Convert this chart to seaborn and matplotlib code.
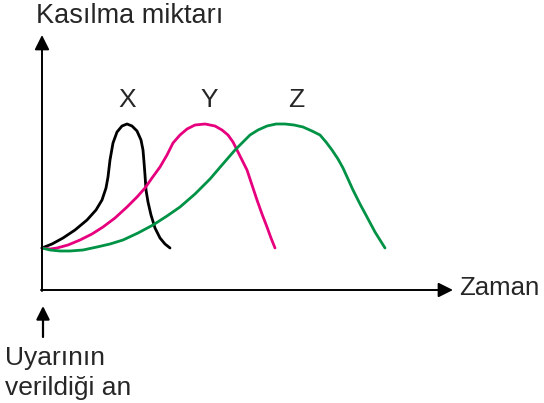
import matplotlib
matplotlib.use("Agg")
import matplotlib.pyplot as plt
import pandas as pd
import seaborn as sns

# values (pixel-like units, y grows downward)
x_curve_t = [42, 52, 63, 75, 87, 96, 102, 106, 108, 110, 113, 117, 122, 127, 132, 137,
             141, 143, 144, 145, 146, 148, 151, 155, 160, 165, 170]
x_curve_v = [248, 244, 238, 230, 220, 210, 200, 188, 177, 160, 143, 132, 126, 124, 126, 131,
             140, 150, 162, 175, 190, 202, 215, 228, 238, 244, 248]

y_curve_t = [42, 50, 57, 68, 80, 92, 103, 115, 127, 137, 145, 152, 160, 167, 173, 180, 187,
             195, 205, 215, 222, 228, 233, 237, 242, 247, 252, 257, 262, 267, 271, 275]
y_curve_v = [248, 249, 248, 245, 240, 234, 227, 218, 207, 197, 188, 178, 167, 155, 143, 135, 129,
             125, 124, 126, 130, 135, 142, 150, 160, 170, 185, 200, 214, 227, 238, 248]

z_curve_t = [42, 50, 60, 70, 83, 97, 110, 123, 138, 153, 167, 180, 195, 210, 222, 235, 243,
             250, 258, 267, 276, 285, 294, 303, 312, 320, 326, 332, 338, 343, 348, 353,
             360, 367, 375, 385]
z_curve_v = [248, 250, 251, 251, 250, 247, 244, 240, 233, 225, 216, 207, 194, 179, 165, 150, 142,
             135, 130, 126, 124, 124, 125, 127, 131, 135, 142, 150, 159, 168, 179, 190,
             204, 217, 232, 248]

curve_names = ["X", "Y", "Z"]
curve_colors = ["black", "#E6007E", "#009245"]
label_pos_t = [127, 209, 296]

df = pd.concat([
    pd.DataFrame({"t": x_curve_t, "v": x_curve_v, "egri": "X"}),
    pd.DataFrame({"t": y_curve_t, "v": y_curve_v, "egri": "Y"}),
    pd.DataFrame({"t": z_curve_t, "v": z_curve_v, "egri": "Z"}),
], ignore_index=True)

sns.set_style("white")
plt.rcParams["font.family"] = ["Liberation Sans", "DejaVu Sans"]

fig = plt.figure(figsize=(5.44, 4.03), dpi=100)
ax = fig.add_axes([0, 0, 1, 1])

sns.lineplot(data=df, x="t", y="v", hue="egri", palette=dict(zip(curve_names, curve_colors)),
             sort=False, estimator=None, linewidth=2.0, legend=False, ax=ax)

# axes with arrows
ax.annotate("", xy=(42, 35), xytext=(42, 291),
            arrowprops=dict(arrowstyle="-|>", color="black", lw=1.4, mutation_scale=22,
                            shrinkA=0, shrinkB=0))
ax.annotate("", xy=(453, 290), xytext=(41, 290),
            arrowprops=dict(arrowstyle="-|>", color="black", lw=1.4, mutation_scale=22,
                            shrinkA=0, shrinkB=0))
ax.annotate("", xy=(43, 306), xytext=(43, 337),
            arrowprops=dict(arrowstyle="-|>", color="black", lw=1.6, mutation_scale=20,
                            shrinkA=0, shrinkB=0))

for name, tx in zip(curve_names, label_pos_t):
    ax.text(tx, 100, name, fontsize=19, ha="center", va="center")

ax.text(36, 16, "Kasılma miktarı", fontsize=19.5, ha="left", va="center")
ax.text(459, 288, "Zaman", fontsize=18.5, ha="left", va="center")
ax.text(5, 358, "Uyarının", fontsize=19, ha="left", va="center")
ax.text(5, 388, "verildiği an", fontsize=19, ha="left", va="center")

ax.set_xlim(0, 544)
ax.set_ylim(403, 0)
ax.axis("off")

fig.savefig("out.png", dpi=100)
